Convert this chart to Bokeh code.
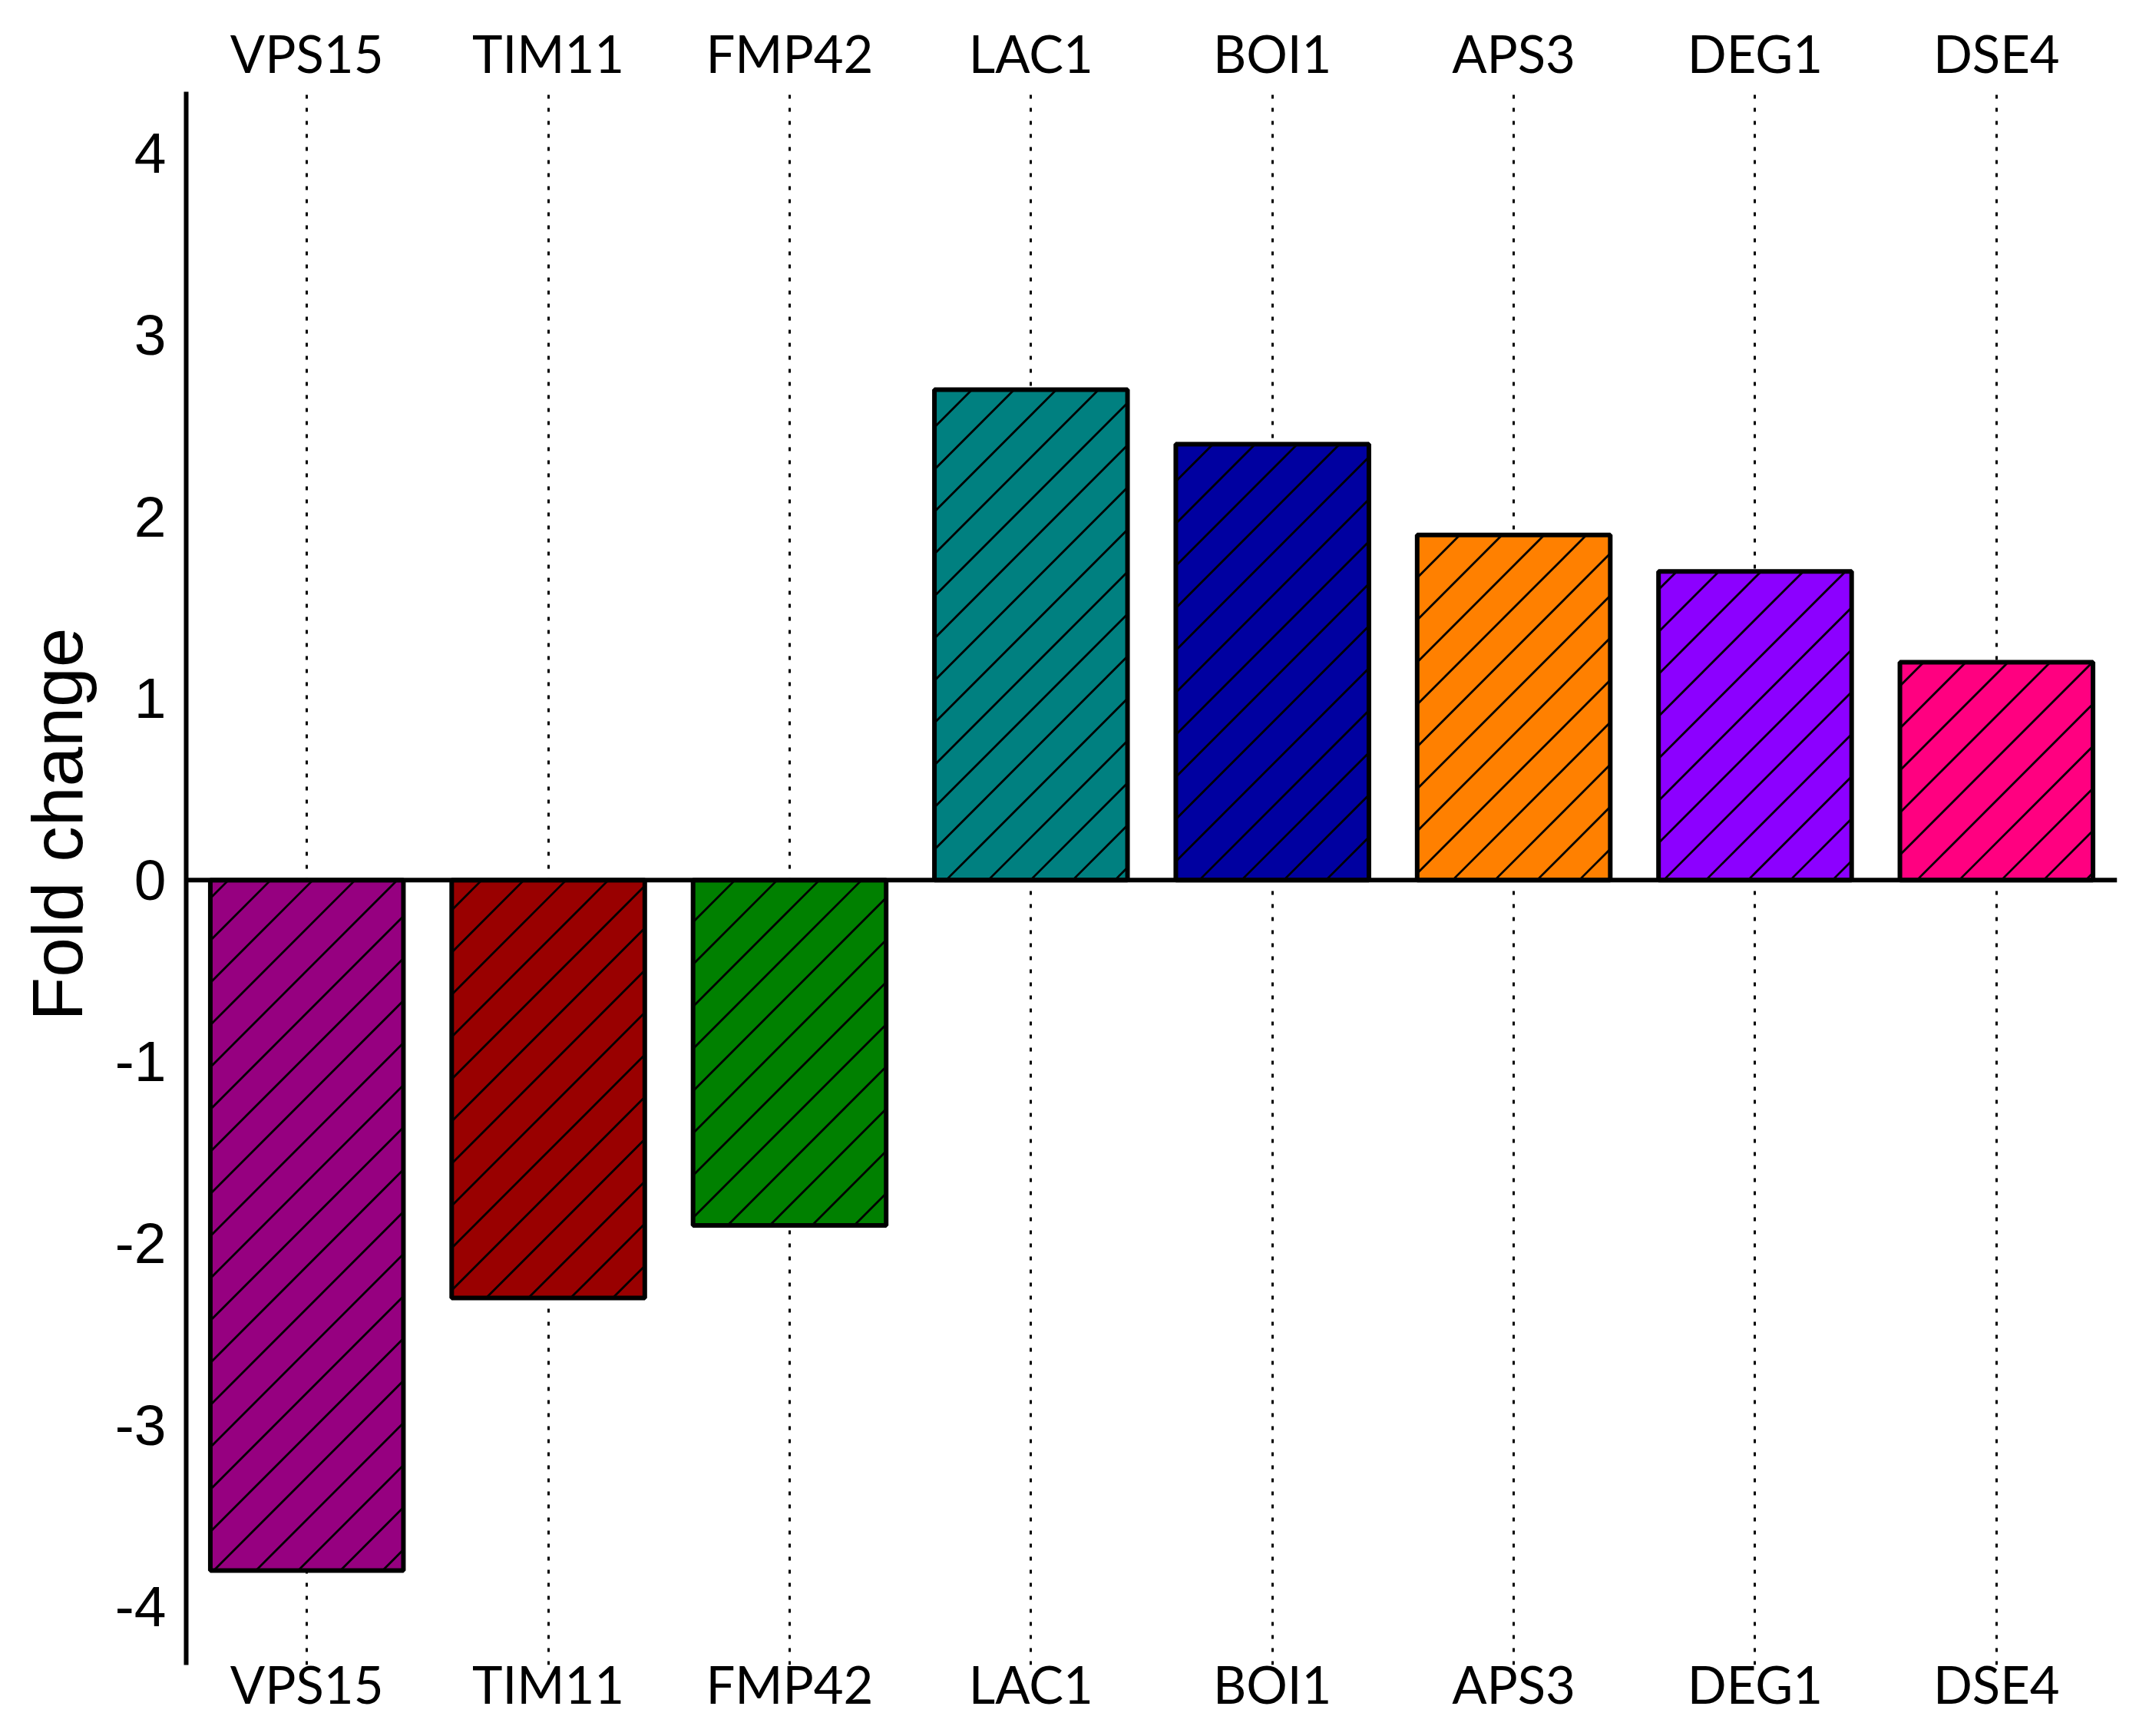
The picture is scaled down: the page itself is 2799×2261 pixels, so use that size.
import math
from bokeh.plotting import figure
from bokeh.models import (ColumnDataSource, FactorRange, Range1d, CategoricalAxis,
                          LinearAxis, FixedTicker, Span, Grid, CategoricalTicker,
                          PrintfTickFormatter, Title)
from bokeh.embed import file_html
from bokeh.resources import INLINE

genes = ["VPS15", "TIM11", "FMP42", "LAC1", "BOI1", "APS3", "DEG1", "DSE4"]
fold_change = [-3.8, -2.3, -1.9, 2.7, 2.4, 1.9, 1.7, 1.2]
colors = ["#960080", "#990000", "#008000", "#008080", "#0000A0", "#FF8000", "#8C00FF", "#FF0080"]
y_ticks = [-4, -3, -2, -1, 0, 1, 2, 3, 4]

W, H = 2775, 2245
BL, BR, BT, BB = 241, 18, 119, 77
Y0, Y1 = -4.32, 4.34
BAR_W = 0.8
HATCH_PX = 55  # horizontal spacing of the 45-degree hatch, in pixels

src = ColumnDataSource(dict(gene=genes, fc=fold_change, color=colors))

p = figure(x_range=FactorRange(*genes), y_range=Range1d(Y0, Y1),
           width=W, height=H, output_backend="svg", toolbar_location=None,
           x_axis_location=None, y_axis_location=None,
           min_border_left=BL, min_border_right=BR, min_border_top=BT, min_border_bottom=BB)
p.outline_line_color = None
p.background_fill_color = "white"
p.ygrid.visible = False
p.xgrid.visible = False

# dotted vertical guide lines at each category
grid = Grid(dimension=0, ticker=CategoricalTicker(), grid_line_color="black",
            grid_line_dash="5 12", grid_line_width=3)
p.add_layout(grid)

# bar fills
p.vbar(x="gene", top="fc", bottom=0, width=BAR_W, source=src,
       fill_color="color", line_color=None)

# 45-degree hatch lines, clipped to each bar (derived from the bar values)
ppx = (W - BL - BR) / len(genes)
ppy = (H - BT - BB) / (Y1 - Y0)
m = ppx / ppy                 # data-y per data-x for a 45 degree line on screen
step = HATCH_PX / ppx         # spacing of lines along x, in data units
hx0, hy0, hx1, hy1 = [], [], [], []
for i, v in enumerate(fold_change):
    xl, xr = i + 0.5 - BAR_W / 2, i + 0.5 + BAR_W / 2
    yb, yt = min(0.0, v), max(0.0, v)
    k0 = math.floor((xl - yt / m) / step)
    k1 = math.ceil((xr - yb / m) / step)
    for k in range(k0, k1 + 1):
        a = k * step
        xs = max(xl, a + yb / m)
        xe = min(xr, a + yt / m)
        if xe - xs > 1e-6:
            hx0.append(xs); hy0.append(m * (xs - a))
            hx1.append(xe); hy1.append(m * (xe - a))
p.segment(x0=hx0, y0=hy0, x1=hx1, y1=hy1, line_color="black", line_width=2.8)

# bar outlines on top
p.vbar(x="gene", top="fc", bottom=0, width=BAR_W, source=src,
       fill_color=None, line_color="black", line_width=6)

p.add_layout(Span(location=0, dimension="width", line_color="black", line_width=6))

def cat_axis(standoff):
    ax = CategoricalAxis()
    ax.axis_line_color = None
    ax.major_tick_line_color = None
    ax.minor_tick_line_color = None
    ax.major_tick_out = 0
    ax.major_tick_in = 0
    ax.major_label_standoff = standoff
    ax.major_label_text_font = "Lato"
    ax.major_label_text_font_size = "67px"
    ax.major_label_text_color = "black"
    return ax

p.add_layout(cat_axis(11), "above")
p.add_layout(cat_axis(-16), "below")

yax = LinearAxis(ticker=FixedTicker(ticks=y_ticks), formatter=PrintfTickFormatter(format="%d"))
yax.axis_line_color = "black"
yax.axis_line_width = 6
yax.major_tick_line_color = None
yax.minor_tick_line_color = None
yax.major_tick_out = 0
yax.major_tick_in = 0
yax.major_label_standoff = 26
yax.major_label_text_font = "Liberation Sans"
yax.major_label_text_font_size = "75px"
yax.major_label_text_color = "black"
p.add_layout(yax, "left")

ttl = Title(text="Fold change", align="left", offset=839, standoff=40,
            text_font="Liberation Sans", text_font_style="normal",
            text_font_size="93px", text_color="black")
p.add_layout(ttl, "left")

open("out.html", "w").write(file_html(p, INLINE))
